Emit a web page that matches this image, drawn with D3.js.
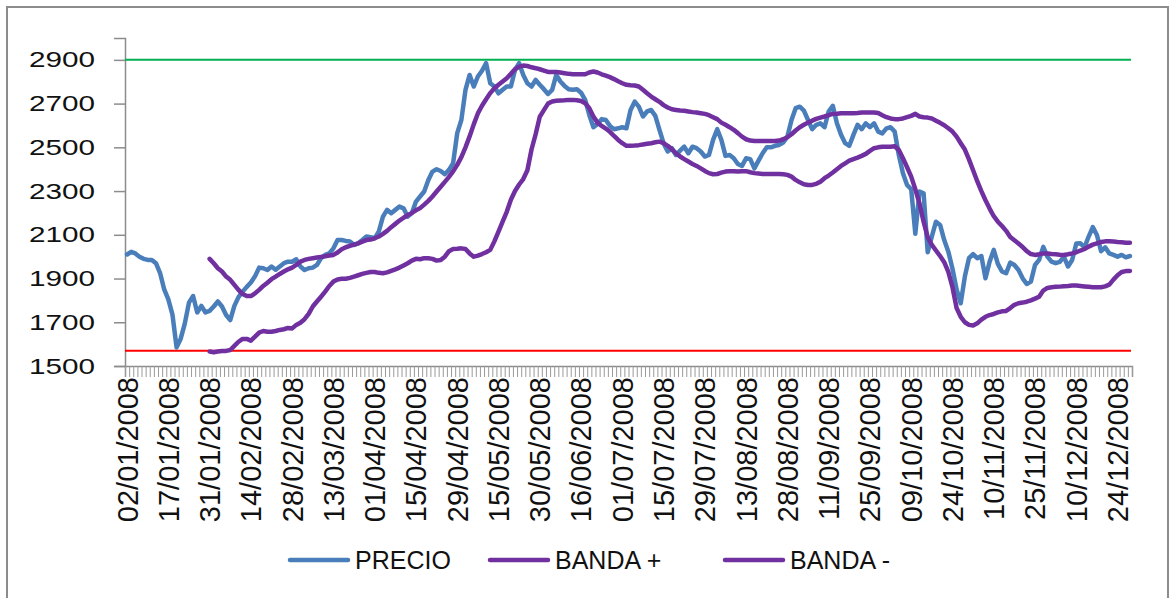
<!DOCTYPE html>
<html>
<head>
<meta charset="utf-8">
<script src="https://d3js.org/d3.v7.min.js"></script>
<style>
  body { margin: 0; background: #fff; }
  svg { display: block; font-family: "Liberation Sans", Arial, sans-serif; }
</style>
</head>
<body>
<svg id="chart" width="1171" height="598"></svg>
<script>
// trading days of 2008, one label every 10 sessions
var tickLabels = ["02/01/2008","17/01/2008","31/01/2008","14/02/2008","28/02/2008","13/03/2008",
  "01/04/2008","15/04/2008","29/04/2008","15/05/2008","30/05/2008","16/06/2008","01/07/2008",
  "15/07/2008","29/07/2008","13/08/2008","28/08/2008","11/09/2008","25/09/2008","09/10/2008",
  "24/10/2008","10/11/2008","25/11/2008","10/12/2008","24/12/2008"];
var labelEvery = 10;

var precio = [
  2010,2022,2015,2000,1990,1985,1985,1970,1925,1850,1805,1735,1585,1625,1695,1790,1820,1745,1775,1745,
  1752,1772,1795,1772,1733,1710,1775,1815,1840,1862,1882,1910,1950,1947,1939,1955,1940,1955,1970,1977,
  1977,1988,1955,1939,1947,1950,1962,1993,2008,2015,2038,2076,2076,2072,2069,2054,2061,2076,2092,2089,
  2084,2115,2183,2214,2199,2214,2229,2221,2183,2199,2252,2275,2298,2351,2389,2400,2392,2377,2397,2427,
  2565,2625,2763,2831,2778,2824,2850,2885,2793,2778,2747,2763,2778,2778,2854,2885,2831,2793,2778,2808,
  2786,2766,2744,2763,2831,2801,2781,2766,2763,2766,2750,2717,2648,2592,2607,2629,2625,2598,2583,2587,
  2592,2587,2671,2709,2686,2641,2664,2671,2644,2580,2519,2481,2496,2465,2485,2503,2473,2503,2496,2481,
  2458,2465,2534,2583,2534,2461,2465,2450,2424,2415,2450,2446,2404,2439,2473,2500,2500,2507,2511,2522,
  2549,2625,2679,2686,2668,2625,2583,2603,2610,2592,2664,2690,2610,2557,2519,2507,2557,2603,2583,2610,
  2592,2610,2572,2564,2587,2592,2572,2465,2381,2328,2308,2105,2298,2290,2020,2092,2160,2145,2076,2023,
  1945,1850,1787,1909,1993,2012,1993,2003,1901,1977,2031,1967,1932,1924,1973,1962,1939,1901,1875,1886,
  1962,1985,2045,2000,1977,1970,1976,2000,1955,1985,2060,2061,2043,2092,2135,2099,2025,2043,2015,2008,
  2000,2008,1997,2003
];

var bandaSup = [
  null,null,null,null,null,null,null,null,null,null,null,null,null,null,null,null,null,null,null,null,
  1990,1970,1947,1932,1909,1894,1871,1848,1829,1820,1820,1832,1848,1866,1881,1897,1909,1921,1932,1942,
  1950,1962,1977,1985,1990,1993,1996,1999,2002,2005,2008,2019,2034,2043,2049,2055,2061,2069,2076,2078,
  2084,2092,2104,2118,2135,2150,2165,2178,2190,2200,2212,2222,2238,2255,2275,2298,2320,2342,2365,2390,
  2420,2455,2500,2550,2605,2655,2690,2720,2748,2770,2786,2801,2816,2836,2857,2869,2874,2872,2866,2862,
  2857,2851,2845,2844,2844,2842,2839,2836,2834,2834,2834,2834,2842,2847,2842,2834,2828,2821,2812,2802,
  2793,2786,2784,2783,2778,2763,2747,2732,2720,2708,2693,2682,2674,2671,2668,2667,2664,2661,2659,2656,
  2653,2647,2638,2629,2613,2603,2592,2580,2565,2549,2537,2531,2529,2529,2529,2529,2529,2529,2531,2537,
  2546,2560,2577,2592,2603,2613,2622,2630,2636,2641,2647,2653,2654,2656,2656,2656,2656,2657,2659,2659,
  2659,2659,2657,2647,2638,2632,2629,2629,2632,2638,2644,2653,2641,2638,2636,2632,2622,2612,2601,2587,
  2572,2549,2519,2490,2445,2395,2345,2300,2258,2220,2185,2160,2140,2118,2090,2075,2060,2044,2025,2012,
  2008,2011,2015,2015,2012,2011,2009,2008,2011,2015,2020,2028,2035,2046,2055,2061,2067,2070,2070,2069,
  2067,2066,2064,2064
];

var bandaInf = [
  null,null,null,null,null,null,null,null,null,null,null,null,null,null,null,null,null,null,null,null,
  1566,1563,1566,1569,1569,1573,1592,1611,1624,1624,1616,1634,1653,1660,1657,1657,1660,1665,1668,1674,
  1672,1688,1698,1714,1738,1772,1795,1817,1840,1866,1886,1896,1899,1899,1903,1909,1915,1921,1926,1930,
  1930,1926,1924,1928,1935,1942,1950,1960,1970,1982,1990,1988,1993,1993,1990,1982,1985,2000,2025,2035,
  2036,2038,2035,2015,2000,2005,2012,2020,2031,2070,2115,2160,2205,2260,2300,2330,2355,2395,2490,2560,
  2640,2670,2700,2710,2713,2714,2715,2717,2717,2715,2712,2702,2679,2641,2613,2598,2586,2571,2552,2534,
  2519,2507,2507,2508,2510,2513,2516,2519,2523,2526,2519,2507,2491,2473,2458,2446,2435,2424,2415,2404,
  2392,2382,2377,2378,2384,2389,2391,2391,2389,2391,2391,2386,2382,2380,2378,2378,2378,2378,2378,2377,
  2374,2366,2351,2340,2331,2328,2328,2333,2343,2359,2371,2385,2400,2415,2427,2439,2446,2453,2461,2470,
  2484,2496,2500,2503,2503,2503,2505,2488,2450,2409,2366,2308,2244,2160,2089,2054,2028,2003,1975,1930,
  1860,1765,1725,1700,1688,1685,1695,1712,1725,1733,1738,1745,1750,1752,1765,1780,1787,1790,1794,1800,
  1808,1817,1845,1857,1860,1862,1863,1865,1866,1868,1868,1866,1864,1862,1860,1860,1860,1864,1872,1895,
  1915,1930,1934,1935
];

var limiteSup = 2900,
    limiteInf = 1570;

var yTicks = [1500, 1700, 1900, 2100, 2300, 2500, 2700, 2900];

var series = [
  {name: "PRECIO", values: precio, color: "#4A7EBB"},
  {name: "BANDA +", values: bandaSup, color: "#7030A0"},
  {name: "BANDA -", values: bandaInf, color: "#7030A0"}
];

(function () {
  var svg = d3.select("#chart");
  var plotLeft = 125, plotRight = 1132, plotTop = 38, plotBottom = 366;
  var n = precio.length;

  // chart area border
  svg.append("rect")
    .attr("x", 7).attr("y", 7)
    .attr("width", 1161).attr("height", 600)
    .attr("fill", "#fff")
    .attr("stroke", "#8c8c8c")
    .attr("stroke-width", 2);

  var x = d3.scaleLinear().domain([0, n]).range([plotLeft, plotRight]);
  var y = d3.scaleLinear().domain([1500, 3000]).range([plotBottom, plotTop]);

  function cx(i) { return x(i + 0.5); }

  // y axis
  var yAxis = svg.append("g")
    .attr("transform", "translate(" + plotLeft + ",0)")
    .call(d3.axisLeft(y).tickValues(yTicks).tickSize(11).tickPadding(19).tickFormat(d3.format("d")));
  yAxis.select(".domain").attr("stroke", "#8c8c8c").attr("stroke-width", 1.5);
  yAxis.selectAll(".tick line").attr("stroke", "#8c8c8c").attr("stroke-width", 1.5);
  yAxis.selectAll(".tick text")
    .attr("fill", "#111")
    .style("font-size", "22px")
    .style("font-family", "'Liberation Sans', Arial, sans-serif")
    .attr("textLength", 66)
    .attr("lengthAdjust", "spacingAndGlyphs");

  // x axis: a tick between every session
  var xAxis = svg.append("g")
    .attr("transform", "translate(0," + plotBottom + ")")
    .call(d3.axisBottom(x).tickValues(d3.range(0, n + 1)).tickSize(11).tickFormat(""));
  xAxis.select(".domain").attr("stroke", "#8c8c8c").attr("stroke-width", 1.5);
  xAxis.selectAll(".tick line").attr("stroke", "#9a9a9a").attr("stroke-width", 1);

  svg.append("g").selectAll("text")
    .data(tickLabels)
    .join("text")
    .attr("transform", function (d, k) { return "translate(" + cx(k * labelEvery) + ",377) rotate(-90)"; })
    .attr("text-anchor", "end")
    .attr("dy", "0.36em")
    .attr("fill", "#111")
    .style("font-size", "29px")
    .text(function (d) { return d; });

  // reference levels
  svg.append("line")
    .attr("x1", plotLeft).attr("x2", plotRight - 1)
    .attr("y1", y(limiteSup)).attr("y2", y(limiteSup))
    .attr("stroke", "#00B050").attr("stroke-width", 2);
  svg.append("line")
    .attr("x1", plotLeft).attr("x2", plotRight - 1)
    .attr("y1", y(limiteInf)).attr("y2", y(limiteInf))
    .attr("stroke", "#FF0000").attr("stroke-width", 2);

  var line = d3.line()
    .defined(function (d) { return d != null; })
    .x(function (d, i) { return cx(i); })
    .y(function (d) { return y(d); });

  svg.append("g").selectAll("path")
    .data(series)
    .join("path")
    .attr("d", function (s) { return line(s.values); })
    .attr("fill", "none")
    .attr("stroke", function (s) { return s.color; })
    .attr("stroke-width", 4.5)
    .attr("stroke-linejoin", "round")
    .attr("stroke-linecap", "round");

  // legend
  var legendX = [290, 490, 725], legendY = 560;
  var legend = svg.append("g").selectAll("g")
    .data(series)
    .join("g")
    .attr("transform", function (s, k) { return "translate(" + legendX[k] + "," + legendY + ")"; });
  legend.append("line")
    .attr("x1", 0).attr("x2", 58)
    .attr("stroke", function (s) { return s.color; })
    .attr("stroke-width", 4.5)
    .attr("stroke-linecap", "round");
  legend.append("text")
    .attr("x", 65)
    .attr("dy", "0.35em")
    .attr("fill", "#111")
    .style("font-size", "25px")
    .text(function (s) { return s.name; });
})();
</script>
</body>
</html>
